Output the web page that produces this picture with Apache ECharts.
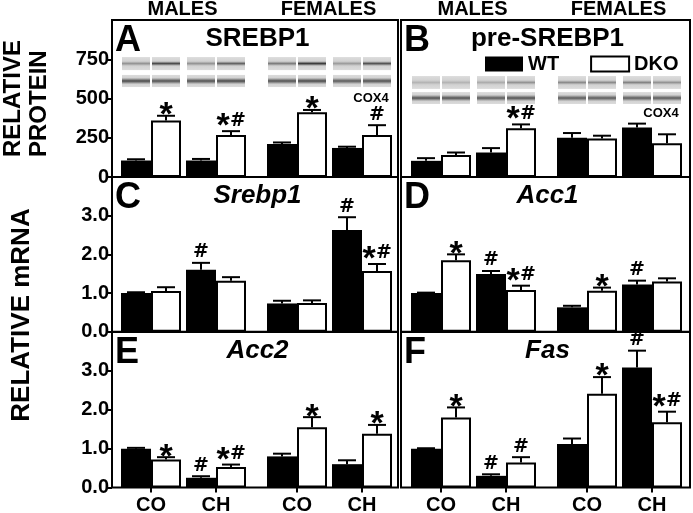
<!DOCTYPE html>
<html><head><meta charset="utf-8">
<script src="https://cdn.jsdelivr.net/npm/echarts@6/dist/echarts.min.js"></script>
<style>html,body{margin:0;padding:0;background:#fff}#c{width:693px;height:513px}</style>
</head><body><div id="c"></div>
<script>
// ---------- data ----------
const groups = ['CO', 'CH'];
const sexes = ['MALES', 'FEMALES'];
const proteinTicks = [0, 250, 500, 750];
const mrnaTicks = [0, 1, 2, 3];

// order in each array: male CO, male CH, female CO, female CH
const protSrebp1WT = [105, 105, 210, 185];
const protSrebp1WTErr = [8, 10, 10, 8];
const protSrebp1DKO = [360, 267, 412, 268];
const protSrebp1DKOErr = [30, 25, 15, 62];
const protSrebp1WTSig = ['', '', '', ''];
const protSrebp1DKOSig = ['*', '*#', '*', '#'];

const protPreWT = [103, 156, 250, 315];
const protPreWTErr = [17, 28, 30, 25];
const protPreDKO = [140, 310, 245, 215];
const protPreDKOErr = [16, 25, 18, 57];
const protPreWTSig = ['', '', '', ''];
const protPreDKOSig = ['', '*#', '', ''];

const srebp1WT = [1.0, 1.6, 0.73, 2.63];
const srebp1WTErr = [0.02, 0.18, 0.07, 0.33];
const srebp1DKO = [1.05, 1.32, 0.74, 1.57];
const srebp1DKOErr = [0.1, 0.09, 0.07, 0.18];
const srebp1WTSig = ['', '#', '', '#'];
const srebp1DKOSig = ['', '', '', '*#'];

const acc1WT = [1.0, 1.49, 0.63, 1.22];
const acc1WTErr = [0.01, 0.08, 0.04, 0.1];
const acc1DKO = [1.85, 1.08, 1.06, 1.3];
const acc1DKOErr = [0.15, 0.11, 0.08, 0.08];
const acc1WTSig = ['', '#', '', '#'];
const acc1DKOSig = ['*', '*#', '*', ''];

const acc2WT = [1.0, 0.25, 0.8, 0.6];
const acc2WTErr = [0.02, 0.04, 0.07, 0.1];
const acc2DKO = [0.72, 0.53, 1.55, 1.38];
const acc2DKOErr = [0.06, 0.06, 0.26, 0.23];
const acc2WTSig = ['', '#', '', ''];
const acc2DKOSig = ['*', '*#', '*', '*'];

const fasWT = [1.0, 0.3, 1.12, 3.09];
const fasWTErr = [0.01, 0.04, 0.14, 0.43];
const fasDKO = [1.8, 0.64, 2.41, 1.68];
const fasDKOErr = [0.26, 0.14, 0.43, 0.27];
const fasWTSig = ['', '#', '', '#'];
const fasDKOSig = ['*', '#', '*', '*#'];

// western blot band intensities per lane (decoration)
const blotASrebp = [0.35, 0.8, 0.35, 0.65, 0.5, 0.9, 0.3, 0.75];
const blotACox4 = [0.8, 0.75, 0.75, 0.8, 0.75, 0.8, 0.7, 0.75];
const blotBPre = [0.15, 0.15, 0.2, 0.35, 0.4, 0.4, 0.45, 0.35];
const blotBCox4 = [0.75, 0.75, 0.7, 0.75, 0.7, 0.7, 0.7, 0.7];

// ---------- layout ----------
const FONT = '"Liberation Sans", Arial, Helvetica, sans-serif';
const HASH_FONT = '"DejaVu Sans", "Liberation Sans", sans-serif';
const BAR_W = 30;
const cols = [
  { frame: [112, 398], halves: [[118.5, 248.5], [264.5, 394.5]] },
  { frame: [401, 690], halves: [[408.5, 538.5], [554.5, 684.5]] }
];
const rows = [
  { top: 20, bottom: 177, max: 1000, interval: 250, ticks: proteinTicks, dec: 0 },
  { top: 177, bottom: 331.7, max: 4, interval: 1, ticks: mrnaTicks, dec: 1 },
  { top: 332, bottom: 487.5, max: 4, interval: 1, ticks: mrnaTicks, dec: 1 }
];

const panels = [
  { letter: 'A', title: 'SREBP1', italic: false, row: 0, col: 0,
    wt: protSrebp1WT, wtErr: protSrebp1WTErr, dko: protSrebp1DKO, dkoErr: protSrebp1DKOErr,
    wtSig: protSrebp1WTSig, dkoSig: protSrebp1DKOSig,
    blot: { rows: [[681, 764], [573, 650]], intens: [blotASrebp, blotACox4] } },
  { letter: 'B', title: 'pre-SREBP1', italic: false, row: 0, col: 1,
    wt: protPreWT, wtErr: protPreWTErr, dko: protPreDKO, dkoErr: protPreDKOErr,
    wtSig: protPreWTSig, dkoSig: protPreDKOSig,
    blot: { rows: [[561, 643], [465, 541]], intens: [blotBPre, blotBCox4] } },
  { letter: 'C', title: 'Srebp1', italic: true, row: 1, col: 0,
    wt: srebp1WT, wtErr: srebp1WTErr, dko: srebp1DKO, dkoErr: srebp1DKOErr,
    wtSig: srebp1WTSig, dkoSig: srebp1DKOSig },
  { letter: 'D', title: 'Acc1', italic: true, row: 1, col: 1,
    wt: acc1WT, wtErr: acc1WTErr, dko: acc1DKO, dkoErr: acc1DKOErr,
    wtSig: acc1WTSig, dkoSig: acc1DKOSig },
  { letter: 'E', title: 'Acc2', italic: true, row: 2, col: 0,
    wt: acc2WT, wtErr: acc2WTErr, dko: acc2DKO, dkoErr: acc2DKOErr,
    wtSig: acc2WTSig, dkoSig: acc2DKOSig },
  { letter: 'F', title: 'Fas', italic: true, row: 2, col: 1,
    wt: fasWT, wtErr: fasWTErr, dko: fasDKO, dkoErr: fasDKOErr,
    wtSig: fasWTSig, dkoSig: fasDKOSig }
];

function txtStyle(text, size, extra) {
  return Object.assign({ text: text, fontSize: size, fontWeight: 'bold', fontFamily: FONT, fill: '#000',
    align: 'center', verticalAlign: 'middle', textAlign: 'center', textVerticalAlign: 'middle' }, extra || {});
}
function star(x, y) { return { type: 'text', x: x, y: y, style: txtStyle('*', 34) }; }
function hash(x, y) { return { type: 'text', x: x, y: y, style: txtStyle('#', 19, { fontFamily: HASH_FONT }) }; }

function renderErr(params, api, sigs) {
  const cat = api.value(0), v = api.value(1), e = api.value(2), side = api.value(3);
  const p0 = api.coord([cat, v]);
  const p1 = api.coord([cat, v + e]);
  const x = p0[0] + side * BAR_W / 2;
  const ls = { stroke: '#000', lineWidth: 2 };
  const ch = [];
  if (e > 0) {
    ch.push({ type: 'line', shape: { x1: x, y1: p0[1], x2: x, y2: p1[1] }, style: ls });
    ch.push({ type: 'line', shape: { x1: x - 9, y1: p1[1], x2: x + 9, y2: p1[1] }, style: ls });
  }
  const s = sigs[params.dataIndex];
  const cy = p1[1];
  if (s === '*') ch.push(star(x, cy));
  else if (s === '#') ch.push(hash(x, cy - 10.5));
  else if (s === '*#') { ch.push(star(x - 8, cy - 4.3)); ch.push(hash(x + 7, cy - 10.5)); }
  return { type: 'group', children: ch };
}

function renderBlot(params, api, cfg, half) {
  const cat = api.value(0);
  const ch = [];
  [-1, 1].forEach(function (side, si) {
    const lane = half * 4 + cat * 2 + si;
    const x = api.coord([cat, 0])[0] + side * BAR_W / 2;
    cfg.rows.forEach(function (rr, ri) {
      const yTop = api.coord([cat, rr[1]])[1], yBot = api.coord([cat, rr[0]])[1];
      const a = cfg.intens[ri][lane];
      const g = Math.round(205 - a * 165);
      const band = 'rgb(' + g + ',' + g + ',' + g + ')';
      const w = ri === 0 ? 0.18 : 0.26;
      ch.push({ type: 'rect', shape: { x: x - 14, y: yTop, width: 28, height: yBot - yTop },
        style: { fill: { type: 'linear', x: 0, y: 0, x2: 0, y2: 1, colorStops: [
          { offset: 0, color: '#dcdcdc' }, { offset: 0.5 - w, color: '#d2d2d2' },
          { offset: 0.5, color: band }, { offset: 0.5 + w, color: '#d2d2d2' }, { offset: 1, color: '#dcdcdc' }] } } });
    });
  });
  return { type: 'group', children: ch };
}

const grid = [], xAxis = [], yAxis = [], series = [], graphic = [];
panels.forEach(function (p) {
  const r = rows[p.row], c = cols[p.col];
  c.halves.forEach(function (h, hi) {
    const gi = grid.length;
    grid.push({ left: h[0], width: h[1] - h[0], top: r.top, height: r.bottom - r.top, outerBoundsMode: 'none', containLabel: false });
    const bottomRow = p.row === 2;
    xAxis.push({ type: 'category', gridIndex: gi, data: groups,
      axisLine: { show: false },
      axisTick: { show: bottomRow, alignWithLabel: true, length: 5, lineStyle: { color: '#000', width: 2 } },
      axisLabel: { show: bottomRow, margin: 8, color: '#000', fontSize: 20, fontWeight: 'bold', fontFamily: FONT } });
    const showY = p.col === 0 && hi === 0;
    yAxis.push({ type: 'value', gridIndex: gi, min: 0, max: r.max, interval: r.interval,
      offset: showY ? h[0] - c.frame[0] : 0,
      splitLine: { show: false }, axisLine: { show: false },
      axisTick: { show: showY, length: 5, customValues: r.ticks, lineStyle: { color: '#000', width: 2 } },
      axisLabel: { show: showY, customValues: r.ticks, margin: 3, color: '#000', fontSize: 20, fontWeight: 'bold', fontFamily: FONT,
        formatter: function (v) { return Number(v).toFixed(r.dec); } } });
    const a = hi * 2, b = hi * 2 + 2;
    series.push({ type: 'bar', name: 'WT', xAxisIndex: gi, yAxisIndex: gi, data: p.wt.slice(a, b),
      barWidth: BAR_W, barGap: '0%', itemStyle: { color: '#000' }, silent: true, z: 2 });
    series.push({ type: 'bar', name: 'DKO', xAxisIndex: gi, yAxisIndex: gi, data: p.dko.slice(a, b),
      barWidth: BAR_W, barGap: '0%', itemStyle: { color: '#fff', borderColor: '#000', borderWidth: 2 }, silent: true, z: 2 });
    const errData = [], sigs = [];
    for (let k = 0; k < 2; k++) {
      const idx = hi * 2 + k;
      errData.push([k, p.wt[idx], p.wtErr[idx], -1]); sigs.push(p.wtSig[idx]);
      errData.push([k, p.dko[idx], p.dkoErr[idx], 1]); sigs.push(p.dkoSig[idx]);
    }
    series.push({ type: 'custom', xAxisIndex: gi, yAxisIndex: gi, data: errData, z: 5, silent: true,
      renderItem: function (params, api) { return renderErr(params, api, sigs); } });
    if (p.blot) {
      const cfg = p.blot, half = hi;
      series.push({ type: 'custom', xAxisIndex: gi, yAxisIndex: gi, data: [[0], [1]], z: 3, silent: true,
        renderItem: function (params, api) { return renderBlot(params, api, cfg, half); } });
    }
  });
  // frame
  graphic.push({ type: 'rect', z: 100, silent: true,
    shape: { x: c.frame[0], y: r.top, width: c.frame[1] - c.frame[0], height: r.bottom - r.top },
    style: { fill: 'none', stroke: '#000', lineWidth: 2 } });
  // letter
  graphic.push({ type: 'text', z: 100, x: c.frame[0] + 3, y: r.top + 21, style: txtStyle(p.letter, 36, { align: 'left', textAlign: 'left' }) });
  // title
  const mid = (c.halves[0][0] + c.halves[1][1]) / 2 + 1;
  graphic.push({ type: 'text', z: 100, x: mid, y: r.top + 19,
    style: txtStyle(p.title, 26, { fontStyle: p.italic ? 'italic' : 'normal' }) });
});

// column headers
cols.forEach(function (c) {
  c.halves.forEach(function (h, hi) {
    graphic.push({ type: 'text', x: (h[0] + h[1]) / 2 - 1, y: 9.5, style: txtStyle(sexes[hi], 20) });
  });
});
// COX4 labels
graphic.push({ type: 'text', x: 371, y: 98, z: 100, style: txtStyle('COX4', 13) });
graphic.push({ type: 'text', x: 661, y: 113, z: 100, style: txtStyle('COX4', 13) });
// y titles
graphic.push({ type: 'text', x: 13, y: 157, rotation: Math.PI / 2, style: txtStyle('RELATIVE', 24, { align: 'left', textAlign: 'left' }) });
graphic.push({ type: 'text', x: 39, y: 157, rotation: Math.PI / 2, style: txtStyle('PROTEIN', 24, { align: 'left', textAlign: 'left' }) });
graphic.push({ type: 'text', x: 22, y: 315, rotation: Math.PI / 2, style: txtStyle('RELATIVE mRNA', 26) });

const chart = echarts.init(document.getElementById('c'), null, { renderer: 'canvas' });
chart.setOption({
  animation: false,
  backgroundColor: '#fff',
  grid: grid, xAxis: xAxis, yAxis: yAxis, series: series, graphic: graphic,
  legend: { data: ['WT', 'DKO'], left: 485, top: 54, itemWidth: 38, itemHeight: 15, itemGap: 31, icon: 'rect',
    selectedMode: false, padding: 0,
    textStyle: { fontSize: 20, fontWeight: 'bold', fontFamily: FONT, color: '#000' } }
});
</script>
</body></html>
